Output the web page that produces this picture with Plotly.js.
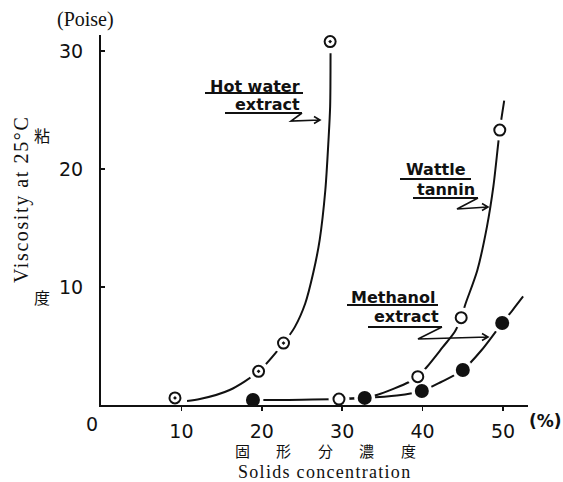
<!DOCTYPE html>
<html>
<head>
<meta charset="utf-8">
<script src="https://cdn.plot.ly/plotly-3.0.1.min.js"></script>
<style>html,body{margin:0;padding:0;background:#fff}</style>
</head>
<body>
<div id="chart" style="width:563px;height:482px"></div>
<script>
// Hot water extract: measured points and the hand-drawn curve through them
const hotWaterX = [9.2, 19.6, 22.7, 28.5];
const hotWaterY = [0.6, 2.85, 5.25, 30.8];
const hotWaterCurveX = [10.7, 12.3, 16.0, 19.6, 22.7, 24.1, 25.4, 26.4, 27.2, 27.9, 28.3, 28.5, 28.55];
const hotWaterCurveY = [0.34, 0.5, 1.27, 2.85, 5.25, 6.6, 8.6, 11.2, 14.0, 18.2, 22.5, 25.3, 29.8];

// Wattle tannin
const wattleX = [29.6, 39.4, 44.8, 49.6];
const wattleY = [0.5, 2.4, 7.4, 23.3];
const wattleCurveX = [29.6, 32.0, 34.3, 38.4, 39.4, 40.5, 42.5, 44.0, 44.8, 45.3, 46.8, 48.0, 48.8, 49.6, 50.15];
const wattleCurveY = [0.5, 0.6, 0.85, 1.97, 2.4, 3.2, 4.9, 6.2, 7.4, 8.5, 11.4, 15.1, 18.5, 23.3, 25.8];

// Methanol extract
const methanolX = [18.9, 32.8, 39.9, 45.0, 49.9];
const methanolY = [0.42, 0.6, 1.19, 2.97, 6.95];
const methanolCurveX = [18.9, 25.0, 32.8, 36.8, 39.9, 42.3, 45.0, 47.35, 49.9, 51.2, 52.5];
const methanolCurveY = [0.42, 0.45, 0.6, 0.8, 1.19, 1.95, 2.97, 4.66, 6.95, 8.05, 9.2];

// Axis ticks
const xTickVals = [10, 20, 30, 40, 50];
const xTickText = ['10', '20', '30', '40', '50'];
const yTickVals = [10, 20, 30];
const yTickText = ['10', '20', '30'];
const xTitleChars = ['固', '形', '分', '濃', '度'];

// Plot-area geometry in pixels (used to place the hand lettering)
const L = 101, T = 35, W = 427, H = 370;
const px = x => (x - L) / W;
const py = y => (T + H - y) / H;

const INK = '#111';
const SANS = 'DejaVu Sans, sans-serif';
const SERIF = 'Liberation Serif, Times New Roman, serif';
const CJK = 'Noto Sans CJK JP, sans-serif';

function curve(x, y) {
  return {x, y, type: 'scatter', mode: 'lines', hoverinfo: 'skip',
          line: {color: INK, width: 2, shape: 'spline', smoothing: 0.8}};
}

const traces = [
  curve(hotWaterCurveX, hotWaterCurveY),
  curve(wattleCurveX, wattleCurveY),
  curve(methanolCurveX, methanolCurveY),
  // white halos leave a small gap between the curves and each point
  {x: hotWaterX.concat(wattleX, methanolX), y: hotWaterY.concat(wattleY, methanolY),
   type: 'scatter', mode: 'markers', cliponaxis: false, hoverinfo: 'skip',
   marker: {symbol: 'circle', size: 21, color: '#fff', line: {width: 0}}},
  {x: hotWaterX, y: hotWaterY, type: 'scatter', mode: 'markers', cliponaxis: false,
   marker: {symbol: 'circle-open-dot', size: 11, color: INK, line: {color: INK, width: 2}}},
  {x: wattleX, y: wattleY, type: 'scatter', mode: 'markers', cliponaxis: false,
   marker: {symbol: 'circle', size: 11, color: '#fff', line: {color: INK, width: 2}}},
  {x: methanolX, y: methanolY, type: 'scatter', mode: 'markers', cliponaxis: false,
   marker: {symbol: 'circle', size: 14, color: INK, line: {color: INK, width: 0}}}
];

// hand-lettered curve labels: text, underlines, zig-zag leader with arrowhead
const labels = [
  {lines: ['Hot water', 'extract'], cx: [255, 267], cy: [86, 104],
   ul: [[205, 303, 93], [225, 302, 113]],
   zig: [[302, 113], [291, 121], [320, 120]]},
  {lines: ['Wattle', 'tannin'], cx: [436, 446], cy: [169, 189],
   ul: [[400, 471, 179], [413, 478, 198]],
   zig: [[478, 198], [457, 209], [488, 207]]},
  {lines: ['Methanol', 'extract'], cx: [393, 406], cy: [297, 316],
   ul: [[347, 438, 305], [368, 442, 327]],
   zig: [[442, 327], [418, 339], [488, 337]]}
];

const annotations = [];
const shapes = [];

labels.forEach(lb => {
  lb.lines.forEach((t, i) => annotations.push({
    xref: 'paper', yref: 'paper', x: px(lb.cx[i]), y: py(lb.cy[i]),
    text: t, showarrow: false, xanchor: 'center', yanchor: 'middle',
    font: {family: SANS, size: 16, weight: 'bold', color: INK}
  }));
  lb.ul.forEach(u => shapes.push({
    type: 'line', xref: 'paper', yref: 'paper',
    x0: px(u[0]), x1: px(u[1]), y0: py(u[2]), y1: py(u[2]),
    line: {color: INK, width: 2}
  }));
  const z = lb.zig;
  const end = z[z.length - 1];
  let p = 'M ' + z.map(q => px(q[0]) + ',' + py(q[1])).join(' L ');
  p += ' M ' + px(end[0] - 6) + ',' + py(end[1] - 3.5) + ' L ' + px(end[0]) + ',' + py(end[1]) +
       ' L ' + px(end[0] - 6) + ',' + py(end[1] + 3.5);
  shapes.push({type: 'path', xref: 'paper', yref: 'paper', path: p,
               line: {color: INK, width: 1.6}});
});

// axis lettering
annotations.push(
  {xref: 'paper', yref: 'paper', x: px(92), y: py(424), text: '0', showarrow: false,
   xanchor: 'center', yanchor: 'middle', font: {family: SANS, size: 19, color: INK}},
  {xref: 'paper', yref: 'paper', x: px(545), y: py(421), text: '(%)', showarrow: false,
   xanchor: 'center', yanchor: 'middle', font: {family: SANS, size: 17, weight: 'bold', color: INK}},
  {xref: 'paper', yref: 'paper', x: px(85), y: py(20), text: '(Poise)', showarrow: false,
   xanchor: 'center', yanchor: 'middle', font: {family: SERIF, size: 20, color: INK}},
  {xref: 'paper', yref: 'paper', x: px(21), y: py(200),
   text: '<span style="letter-spacing:1.6px">Viscosity at 25°C</span>', showarrow: false,
   textangle: -90, xanchor: 'center', yanchor: 'middle', font: {family: SERIF, size: 20, color: INK}},
  {xref: 'paper', yref: 'paper', x: px(42), y: py(135), text: '粘', showarrow: false,
   xanchor: 'center', yanchor: 'middle', font: {family: CJK, size: 16, color: INK}},
  {xref: 'paper', yref: 'paper', x: px(42), y: py(297), text: '度', showarrow: false,
   xanchor: 'center', yanchor: 'middle', font: {family: CJK, size: 16, color: INK}},
  {xref: 'paper', yref: 'paper', x: px(324), y: py(472),
   text: '<span style="letter-spacing:1.3px">Solids concentration</span>', showarrow: false,
   xanchor: 'center', yanchor: 'middle', font: {family: SERIF, size: 18, color: INK}}
);
// spaced Japanese x-axis title
xTitleChars.forEach((c, i) => annotations.push({
  xref: 'paper', yref: 'paper', x: px(242 + i * 41.5), y: py(450.5), text: c, showarrow: false,
  xanchor: 'center', yanchor: 'middle', font: {family: CJK, size: 15, color: INK}
}));

const layout = {
  width: 563, height: 482,
  margin: {l: L, r: 563 - L - W, t: T, b: 482 - T - H, pad: 0},
  paper_bgcolor: '#fff', plot_bgcolor: '#fff',
  showlegend: false,
  xaxis: {
    range: [0, W / 8.04], showgrid: false, zeroline: false,
    showline: true, linecolor: INK, linewidth: 2,
    ticks: 'outside', ticklen: 4, tickwidth: 1.5, tickcolor: INK,
    tickvals: xTickVals, ticktext: xTickText, ticklabelstandoff: 4,
    tickfont: {family: SANS, size: 19, color: INK}
  },
  yaxis: {
    range: [0, H / 11.8], showgrid: false, zeroline: false,
    showline: true, linecolor: INK, linewidth: 2,
    ticks: 'inside', ticklen: 4, tickwidth: 1.5, tickcolor: INK,
    tickvals: yTickVals, ticktext: yTickText, ticklabelstandoff: 12,
    tickfont: {family: SANS, size: 19, color: INK}
  },
  annotations, shapes
};

Plotly.newPlot('chart', traces, layout, {staticPlot: true, displayModeBar: false});
</script>
</body>
</html>
